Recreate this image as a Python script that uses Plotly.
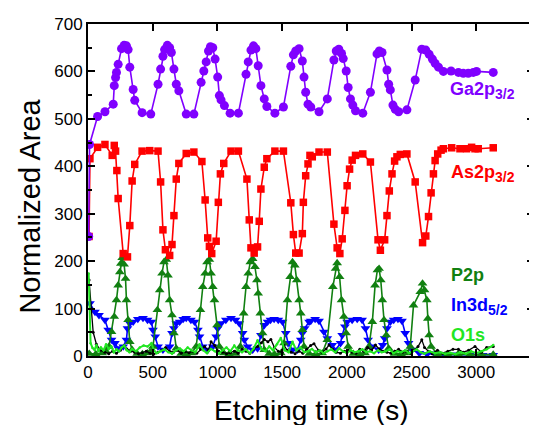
import plotly.graph_objects as go

# ---- data (etching time s, normalized area) ----
GA2P = [(5,252),(12,446),(74,505),(131,515),(195,531),(203,570),(213,587),(220,598),(233,615),(259,648),(279,655),(297,654),(310,646),(323,609),(349,562),(361,539),(418,513),(485,510),(541,573),(561,605),(579,632),(592,646),(613,655),(631,650),(644,640),(664,605),(682,573),(702,559),(759,510),(818,510),(874,577),(895,601),(913,620),(931,643),(946,652),(964,650),(982,626),(1002,588),(1015,549),(1028,540),(1054,528),(1098,512),(1162,512),(1221,594),(1238,620),(1259,645),(1279,654),(1297,648),(1315,612),(1336,570),(1362,542),(1382,526),(1444,512),(1510,525),(1567,611),(1587,635),(1605,643),(1631,648),(1656,622),(1669,588),(1682,556),(1700,531),(1721,525),(1785,515),(1849,542),(1900,624),(1918,643),(1938,647),(1959,638),(1972,627),(1995,601),(2010,566),(2028,542),(2046,529),(2067,517),(2123,512),(2182,556),(2233,637),(2251,643),(2272,640),(2310,603),(2323,573),(2336,561),(2356,529),(2374,520),(2400,515),(2464,519),(2528,582),(2579,647),(2610,645),(2636,636),(2661,626),(2682,617),(2708,609),(2746,600),(2805,601),(2862,598),(2900,596),(2938,596),(2977,598),(3002,600),(3131,598)]

AS2P = [(8,252),(15,416),(74,440),(131,446),(187,423),(203,444),(213,432),(223,391),(233,332),(272,216),(305,209),(323,275),(341,369),(361,404),(418,432),(477,433),(541,432),(561,367),(579,266),(598,224),(631,212),(649,235),(664,296),(682,373),(702,406),(759,427),(818,430),(880,410),(905,329),(925,249),(938,231),(956,216),(990,242),(1007,324),(1023,384),(1049,406),(1105,432),(1162,432),(1228,373),(1246,287),(1259,228),(1284,217),(1310,230),(1323,284),(1336,352),(1362,398),(1382,416),(1444,432),(1510,432),(1567,323),(1587,256),(1605,217),(1631,217),(1656,258),(1664,324),(1682,380),(1700,405),(1715,423),(1733,420),(1785,430),(1849,430),(1900,278),(1925,228),(1946,216),(1964,247),(1985,307),(2002,359),(2021,394),(2041,413),(2067,423),(2123,426),(2182,409),(2241,245),(2259,223),(2292,245),(2310,296),(2328,348),(2349,384),(2369,411),(2387,420),(2413,425),(2464,426),(2528,367),(2585,239),(2610,253),(2631,294),(2651,344),(2669,384),(2682,412),(2702,426),(2728,434),(2746,437),(2810,439),(2874,437),(2925,437),(2964,440),(2990,437),(3015,437),(3131,439)]

P2P = [(10,5),(60,4),(110,6),(140,10),(162,20),(182,51),(203,83),(220,118),(233,149),(246,177),(254,195),(264,207),(279,193),(290,163),(297,118),(310,76),(323,30),(341,13),(380,5),(420,4),(460,6),(480,8),(502,20),(536,97),(554,139),(572,174),(587,198),(605,203),(618,170),(631,118),(649,86),(664,48),(682,16),(720,5),(760,4),(800,6),(836,20),(869,97),(887,146),(905,174),(920,198),(938,203),(951,174),(964,146),(977,118),(997,65),(1015,20),(1050,6),(1090,4),(1140,5),(1177,20),(1203,90),(1221,146),(1238,174),(1254,198),(1272,205),(1290,188),(1305,160),(1315,132),(1331,90),(1349,48),(1362,13),(1400,5),(1440,4),(1490,6),(1515,27),(1541,118),(1562,167),(1580,198),(1598,191),(1613,160),(1631,118),(1644,90),(1656,55),(1669,20),(1710,5),(1760,4),(1810,6),(1849,34),(1892,146),(1913,184),(1925,196),(1944,167),(1959,118),(1977,83),(1995,48),(2010,20),(2050,5),(2100,4),(2140,6),(2171,20),(2197,72),(2218,149),(2236,181),(2249,184),(2262,160),(2274,118),(2287,76),(2305,44),(2323,16),(2370,5),(2420,4),(2465,6),(2490,20),(2515,107),(2567,135),(2585,153),(2600,139),(2618,118),(2626,79),(2636,44),(2651,20),(2700,4),(2780,3),(2860,4),(2950,3),(3040,3),(3131,3)]

IN3D = [(15,111),(54,93),(85,86),(131,76),(156,55),(182,34),(208,27),(233,16),(272,20),(297,34),(305,58),(323,69),(349,72),(385,78),(425,80),(460,76),(490,72),(502,55),(520,41),(541,20),(579,13),(631,20),(649,48),(664,58),(682,69),(708,72),(735,78),(759,80),(795,76),(823,72),(849,55),(862,41),(887,20),(925,13),(964,20),(990,41),(1002,58),(1028,69),(1065,76),(1105,80),(1140,76),(1169,69),(1195,48),(1208,34),(1233,20),(1272,13),(1310,16),(1336,44),(1362,65),(1387,72),(1410,76),(1438,78),(1470,76),(1503,72),(1528,48),(1546,27),(1580,13),(1618,13),(1644,34),(1656,48),(1674,58),(1708,72),(1721,74),(1755,78),(1785,74),(1823,51),(1849,37),(1887,23),(1913,13),(1951,27),(1964,44),(1985,62),(2002,72),(2041,76),(2080,78),(2118,76),(2144,58),(2164,34),(2195,20),(2246,13),(2277,23),(2292,37),(2310,58),(2336,72),(2362,76),(2395,78),(2426,74),(2451,48),(2477,27),(2503,13),(2560,6),(2620,4),(2677,5),(2750,3),(2850,3),(2950,2),(3050,2),(3131,2)]

O1S = [(5,174),(20,27),(35,17),(50,13),(65,23),(80,10),(100,18),(120,12),(140,25),(160,15),(180,20),(200,8),(220,14),(240,10),(260,18),(280,22),(300,12),(320,8),(340,15),(370,10),(400,18),(430,22),(460,20),(490,27),(510,12),(530,6),(560,10),(590,14),(620,8),(650,5),(680,12),(710,16),(740,10),(770,18),(800,12),(830,8),(862,25),(890,12),(920,6),(950,15),(980,10),(1010,5),(1040,12),(1070,18),(1100,10),(1130,22),(1160,12),(1190,8),(1220,14),(1250,6),(1280,16),(1310,33),(1340,15),(1370,10),(1400,20),(1430,12),(1460,25),(1490,38),(1520,12),(1550,8),(1580,30),(1610,12),(1640,18),(1670,8),(1700,10),(1730,15),(1760,8),(1790,12),(1820,6),(1850,10),(1880,14),(1910,8),(1940,16),(1970,10),(2000,6),(2030,12),(2060,8),(2090,10),(2120,14),(2150,8),(2180,10),(2210,6),(2240,12),(2270,8),(2300,10),(2330,14),(2360,6),(2390,10),(2420,8),(2450,12),(2480,6),(2510,10),(2540,14),(2570,8),(2600,5),(2640,10),(2680,6),(2720,8),(2760,5),(2800,7),(2840,4),(2880,8),(2920,5),(2960,10),(3000,6),(3040,10),(3080,14),(3131,23)]

C1S = [(8,160),(25,100),(40,50),(65,25),(95,12),(130,8),(160,5),(190,10),(220,6),(250,12),(280,22),(300,15),(330,10),(360,8),(390,5),(420,7),(450,10),(480,6),(510,4),(540,8),(570,12),(600,18),(630,10),(660,8),(690,12),(720,6),(750,9),(780,7),(810,10),(840,6),(870,14),(900,20),(930,12),(951,30),(980,22),(1010,10),(1040,8),(1070,5),(1100,7),(1130,10),(1160,6),(1190,14),(1220,10),(1250,6),(1280,15),(1310,20),(1340,28),(1362,35),(1390,30),(1413,35),(1440,18),(1470,10),(1500,8),(1515,22),(1540,12),(1570,8),(1600,5),(1630,10),(1660,6),(1690,14),(1720,22),(1746,26),(1780,12),(1810,8),(1840,15),(1862,23),(1890,14),(1920,8),(1950,6),(1980,10),(2010,12),(2040,8),(2070,6),(2100,14),(2130,10),(2160,18),(2190,12),(2221,23),(2250,15),(2280,10),(2310,8),(2340,6),(2370,10),(2400,14),(2430,8),(2460,10),(2490,6),(2520,12),(2550,20),(2579,34),(2600,18),(2630,10),(2660,5),(2700,12),(2740,6),(2780,10),(2820,14),(2862,14),(2900,8),(2940,12),(2990,20),(3040,8),(3080,18),(3131,20)]

X_TICKS = [0, 500, 1000, 1500, 2000, 2500, 3000]
Y_TICKS = [0, 100, 200, 300, 400, 500, 600, 700]

FONT = "Arial, Liberation Sans, sans-serif"
PURPLE = "#8000FF"
RED = "#FF0000"
DGREEN = "#118011"
BLUE = "#0000FF"
LGREEN = "#22E622"


def xy(pairs):
    return [p[0] for p in pairs], [p[1] for p in pairs]


fig = go.Figure()


def add(pairs, color, symbol, size, width=1.6, mode="lines+markers"):
    x, y = xy(pairs)
    fig.add_trace(go.Scatter(x=x, y=y, mode=mode, line=dict(color=color, width=width),
                             marker=dict(color=color, symbol=symbol, size=size, line=dict(width=0)),
                             showlegend=False, hoverinfo="skip"))


add(IN3D, BLUE, "triangle-down", 8.5)
add(P2P, DGREEN, "triangle-up", 8.5)
add(AS2P, RED, "square", 7.5)
add(GA2P, PURPLE, "circle", 9)
add(C1S, "black", "circle", 3, width=1.3)
add(O1S, LGREEN, "circle", 2.5, width=2)


def sub(s):
    return "<sub><span style='font-size:14px'>" + s + "</span></sub>"


labels = [
    ("<b>Ga2p" + sub("3/2") + "</b>", 2785, 560, PURPLE),
    ("<b>As2p" + sub("3/2") + "</b>", 2790, 385, RED),
    ("<b>P2p</b>", 2790, 170, DGREEN),
    ("<b>In3d" + sub("5/2") + "</b>", 2790, 105, BLUE),
    ("<b>O1s</b>", 2790, 44, LGREEN),
]
for text, x, y, c in labels:
    fig.add_annotation(x=x, y=y, xref="x", yref="y", text=text, showarrow=False,
                       xanchor="left", yanchor="middle",
                       font=dict(family=FONT, size=18, color=c))

fig.add_annotation(x=0.5, y=-0.163, xref="paper", yref="paper", text="Etching time (s)",
                   showarrow=False, xanchor="center", yanchor="middle",
                   font=dict(family=FONT, size=28, color="black"))
fig.add_annotation(x=-0.13, y=0.45, xref="paper", yref="paper", text="Normalized Area",
                   showarrow=False, textangle=-90, xanchor="center", yanchor="middle",
                   font=dict(family=FONT, size=29, color="black"))

axis_common = dict(showgrid=False, zeroline=False, showline=True, linecolor="black",
                   linewidth=2, mirror="allticks", ticks="inside", tickcolor="black",
                   tickwidth=2, ticklen=7,
                   tickfont=dict(family=FONT, size=17, color="black"))

fig.update_xaxes(range=[0, 3446], tickvals=X_TICKS, ticktext=[str(v) for v in X_TICKS],
                 **axis_common)
fig.update_yaxes(range=[0, 700], tickvals=Y_TICKS, ticktext=[str(v) for v in Y_TICKS],
                 minor=dict(dtick=50, ticks="inside", ticklen=4, tickwidth=2, tickcolor="black"),
                 **axis_common)

# the page body adds an 8px offset, so the figure is 8px smaller on each axis
fig.update_layout(width=529, height=417, margin=dict(l=80, r=1, t=16, b=69),
                  plot_bgcolor="white", paper_bgcolor="white",
                  font=dict(family=FONT))

fig.write_html("out.html")
